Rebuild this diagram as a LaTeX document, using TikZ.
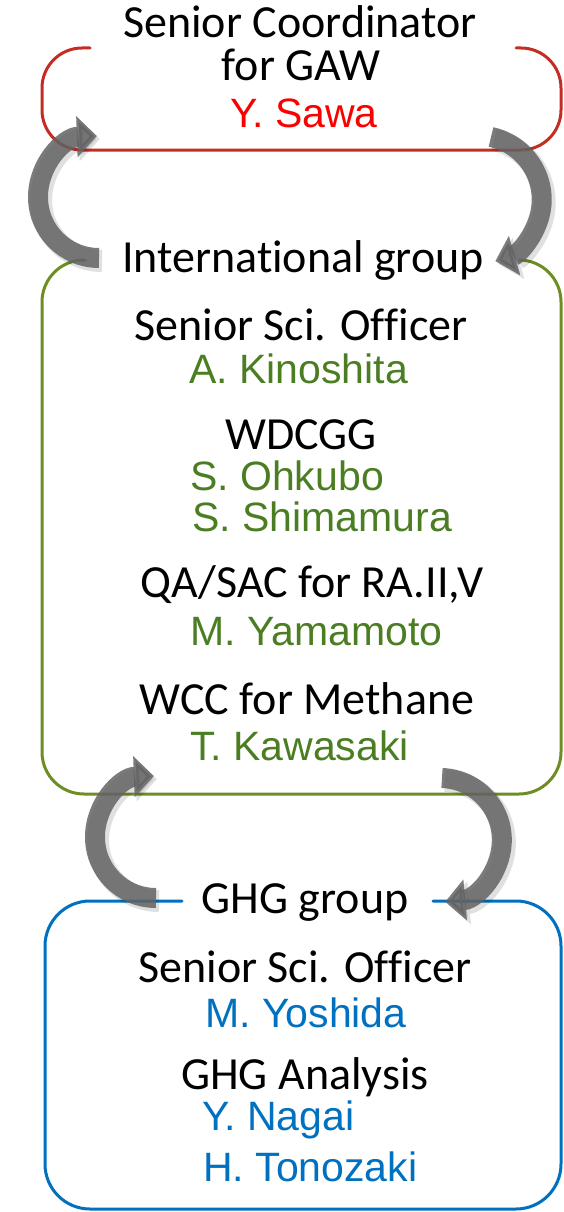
\documentclass[tikz,border=0pt]{standalone}
\usepackage{fontspec}
\setmainfont{Carlito}[Ligatures=NoCommon]
\newfontfamily\arial{Liberation Sans}
\usetikzlibrary{arrows.meta}
\definecolor{redline}{RGB}{196,45,35}
\definecolor{redtext}{RGB}{250,0,0}
\definecolor{greenline}{RGB}{110,142,35}
\definecolor{greentext}{RGB}{75,125,35}
\definecolor{blueline}{RGB}{0,112,192}
\definecolor{arrowgray}{RGB}{100,100,100}
\tikzset{
  hdtext/.style={anchor=base, inner sep=0pt, font=\fontsize{46}{50}\selectfont},
  person/.style={anchor=base west, inner sep=0pt, font=\arial\fontsize{41}{45}\selectfont},
  boxline/.style={line width=3pt, line cap=round},
  cyclearrow/.style={line width=20pt, draw=arrowgray, opacity=0.85,
    -{Triangle[width=40pt,length=20pt]}},
  arrowshadow/.style={line width=22pt, draw=black, opacity=0.12,
    -{Triangle[width=42pt,length=21pt]}},
}
\begin{document}
\begin{tikzpicture}[x=1pt,y=-1pt]
\useasboundingbox (0,0) rectangle (564,1212);

% ---- top box ----
\draw[boxline, redline, rounded corners=40pt]
  (90,48) -- (42,48) -- (42,150) -- (561,150) -- (561,48) -- (516,48);
\node[hdtext] (sc1) at (300,38) {Senior Coordinator};
\node[hdtext] (sc2) at (301,81) {for GAW};
\node[person, text=redtext] (sawa) at (230,128) {Y. Sawa};

% ---- international group box ----
\draw[boxline, greenline, rounded corners=42pt]
  (85,260) -- (42,260) -- (42,794) -- (561,794) -- (561,260) -- (522,260);
\node[hdtext] (intl) at (303,272) {International group};
\node[hdtext] (sso1) at (301,340) {Senior Sci. Officer};
\node[person, text=greentext] (kino) at (189,383) {A. Kinoshita};
\node[hdtext] (wdc) at (301,449) {WDCGG};
\node[person, text=greentext] (ohk) at (190,490) {S. Ohkubo};
\node[person, text=greentext] (shim) at (192,531) {S. Shimamura};
\node[hdtext] (qa) at (312,597) {QA/SAC for RA.II,V};
\node[person, text=greentext] (yama) at (190,645) {M. Yamamoto};
\node[hdtext] (wcc) at (307,714) {WCC for Methane};
\node[person, text=greentext] (kawa) at (190,760) {T. Kawasaki};

% ---- GHG group box ----
\draw[boxline, blueline, rounded corners=45pt]
  (182,901) -- (45,901) -- (45,1209) -- (561,1209) -- (561,901) -- (433,901);
\node[hdtext] (ghg) at (305,913) {GHG group};
\node[hdtext] (sso2) at (305,982) {Senior Sci. Officer};
\node[person, text=blueline] (yosh) at (205,1027) {M. Yoshida};
\node[hdtext] (ana) at (305,1089) {GHG Analysis};
\node[person, text=blueline] (naga) at (202,1130) {Y. Nagai};
\node[person, text=blueline] (tono) at (203,1181) {H. Tonozaki};

% ---- cycle arrows ----
\coordinate (a1) at (99,258);
\coordinate (a2) at (491,137);
\coordinate (a3) at (156,898);
\coordinate (a4) at (442,778);

\draw[arrowshadow] ([shift={(3,3)}]a1) arc[start angle=90, end angle=268, radius=61];
\draw[arrowshadow] ([shift={(3,3)}]a2) arc[start angle=-78, end angle=74, radius=64];
\draw[arrowshadow] ([shift={(3,3)}]a3) arc[start angle=90, end angle=268, radius=61];
\draw[arrowshadow] ([shift={(3,3)}]a4) arc[start angle=-88, end angle=85, radius=62];

\draw[cyclearrow] (a1) arc[start angle=90, end angle=268, radius=61];
\draw[cyclearrow] (a2) arc[start angle=-78, end angle=74, radius=64];
\draw[cyclearrow] (a3) arc[start angle=90, end angle=268, radius=61];
\draw[cyclearrow] (a4) arc[start angle=-88, end angle=85, radius=62];
\end{tikzpicture}
\end{document}
